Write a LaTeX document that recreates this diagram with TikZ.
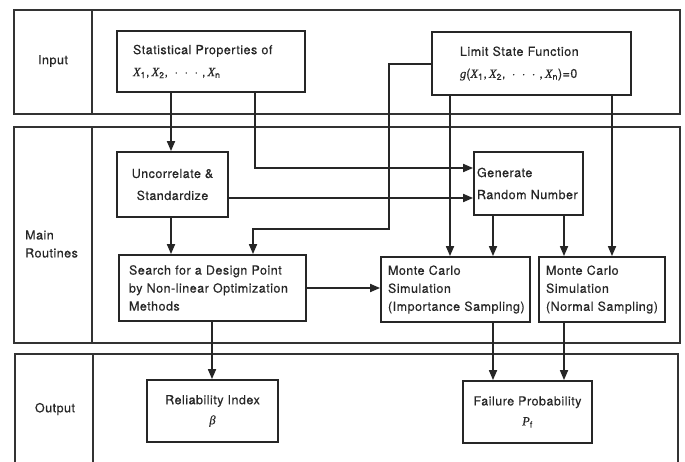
\documentclass[tikz,border=0pt]{standalone}
\usepackage{fontspec}
\setmainfont{TeX Gyre Heros}[LetterSpace=4, FakeBold=0.4]
\newfontfamily\varfont{Liberation Serif}[FakeBold=0.3]
\newcommand\var[1]{{\varfont\itshape #1}}
\newcommand\dotsep{\hspace{6.5pt}}
\usetikzlibrary{arrows.meta}
\begin{document}
\begin{tikzpicture}[x=1pt,y=-1pt,
  text=black!85,
  font=\fontsize{12.5}{18}\selectfont,
  panel/.style={draw=black!80, line width=1.1pt},
  blk/.style={draw=black!85, line width=1.8pt, inner ysep=0pt},
  two/.style={font=\fontsize{12.5}{22}\selectfont},
  three/.style={font=\fontsize{12.5}{18}\selectfont},
  arr/.style={draw=black!85, line width=1.7pt, -{Triangle[length=10pt,width=8pt]}},
]
\useasboundingbox (0,0) rectangle (685,462);
\fill[white] (0,0) rectangle (685,462);

% three horizontal bands with a label column
\draw[panel] (14,10) rectangle (680,114);
\draw[panel] (92,10) -- (92,114);
\draw[panel] (14,127) rectangle (680,343);
\draw[panel] (92,127) -- (92,343);
\draw[panel] (15,462) |- (678,354) -- (678,462);
\draw[panel] (93,354) -- (93,462);

\node (lin) at (53,61) {Input};
\node[align=left, anchor=west, inner sep=0pt] (lmain) at (25,244) {Main\\Routines};
\node (lout) at (55,409) {Output};

% input boxes
\node[blk, two, align=left, inner xsep=16pt, text width=156pt, minimum height=61pt] (stat) at (211,61.5)
  {\mbox{Statistical Properties of}\\
   \mbox{\var{X}\textsubscript{1},\,\var{X}\textsubscript{2},\dotsep·\dotsep·\dotsep·\hspace{4pt},\,\var{X}\textsubscript{n}}};
\node[blk, two, align=left, inner xsep=28pt, text width=143pt, minimum height=63pt] (limit) at (531.5,63.5)
  {\mbox{Limit State Function}\\
   \mbox{\var{g}(\var{X}\textsubscript{1},\,\var{X}\textsubscript{2},\dotsep·\dotsep·\dotsep·\hspace{4pt},\,\var{X}\textsubscript{n})=0}};

% main routines
\node[blk, two, align=center, minimum width=111pt, minimum height=65pt] (uncor) at (172.5,184.5)
  {Uncorrelate \&\\Standardize};
\node[blk, two, align=left, inner xsep=3pt, text width=103pt, minimum height=63pt] (gen) at (528.5,183.5)
  {\mbox{Generate}\\\mbox{Random Number}};
\node[blk, three, align=left, inner xsep=10pt, text width=167pt, minimum height=66pt] (search) at (212.5,288)
  {\mbox{Search for a Design Point}\\\mbox{by Non-linear Optimization}\\\mbox{Methods}};
\node[blk, three, align=left, inner xsep=7pt, text width=135pt, minimum height=65pt] (mcis) at (455.5,289.5)
  {\mbox{Monte Carlo}\\\mbox{Simulation}\\\mbox{(Importance Sampling)}};
\node[blk, three, align=left, inner xsep=7pt, text width=112pt, minimum height=65pt] (mcns) at (602,289.5)
  {\mbox{Monte Carlo}\\\mbox{Simulation}\\\mbox{(Normal Sampling)}};

% outputs
\node[blk, font=\fontsize{12.5}{20}\selectfont, align=center, minimum width=131pt, minimum height=62pt] (rel) at (212.5,411)
  {Reliability Index\\\var{β}};
\node[blk, font=\fontsize{12.5}{20}\selectfont, align=center, minimum width=129pt, minimum height=62pt] (fail) at (527.5,412)
  {Failure Probability\\\var{P}\textsubscript{f}};

% connectors (kept on whole-point positions so the strokes stay crisp)
\coordinate (bend) at (389,229);
\draw[arr] ([xshift=-1.5pt]stat.south -| uncor.north) -- ([xshift=-1.5pt]uncor.north);
\draw[arr] ([xshift=44pt]stat.south) |- ([yshift=15.5pt]gen.west);
\draw[arr] ([yshift=-13.5pt]uncor.east) -- ([yshift=-13.5pt]uncor.east -| gen.west);
\draw[arr] ([yshift=-0.5pt]limit.west) -| (bend) -| ([xshift=40.5pt]search.north);
\draw[arr] ([xshift=-81.5pt]limit.south) -- ([xshift=-81.5pt]limit.south |- mcis.north);
\draw[arr] ([xshift=80.5pt]limit.south) -- ([xshift=80.5pt]limit.south |- mcns.north);
\draw[arr] ([xshift=-35.5pt]gen.south) -- ([xshift=-35.5pt]gen.south |- mcis.north);
\draw[arr] ([xshift=35.5pt]gen.south) -- ([xshift=35.5pt]gen.south |- mcns.north);
\draw[arr] ([xshift=-1.5pt]uncor.south) -- ([xshift=-1.5pt]uncor.south |- search.north);
\draw[arr] (search.east) -- (search.east -| mcis.west);
\draw[arr] ([xshift=-0.5pt]search.south) -- ([xshift=-0.5pt]search.south |- rel.north);
\draw[arr] ([xshift=37.5pt]mcis.south) -- ([xshift=37.5pt]mcis.south |- fail.north);
\draw[arr] ([xshift=-38pt]mcns.south) -- ([xshift=-38pt]mcns.south |- fail.north);
\end{tikzpicture}
\end{document}
